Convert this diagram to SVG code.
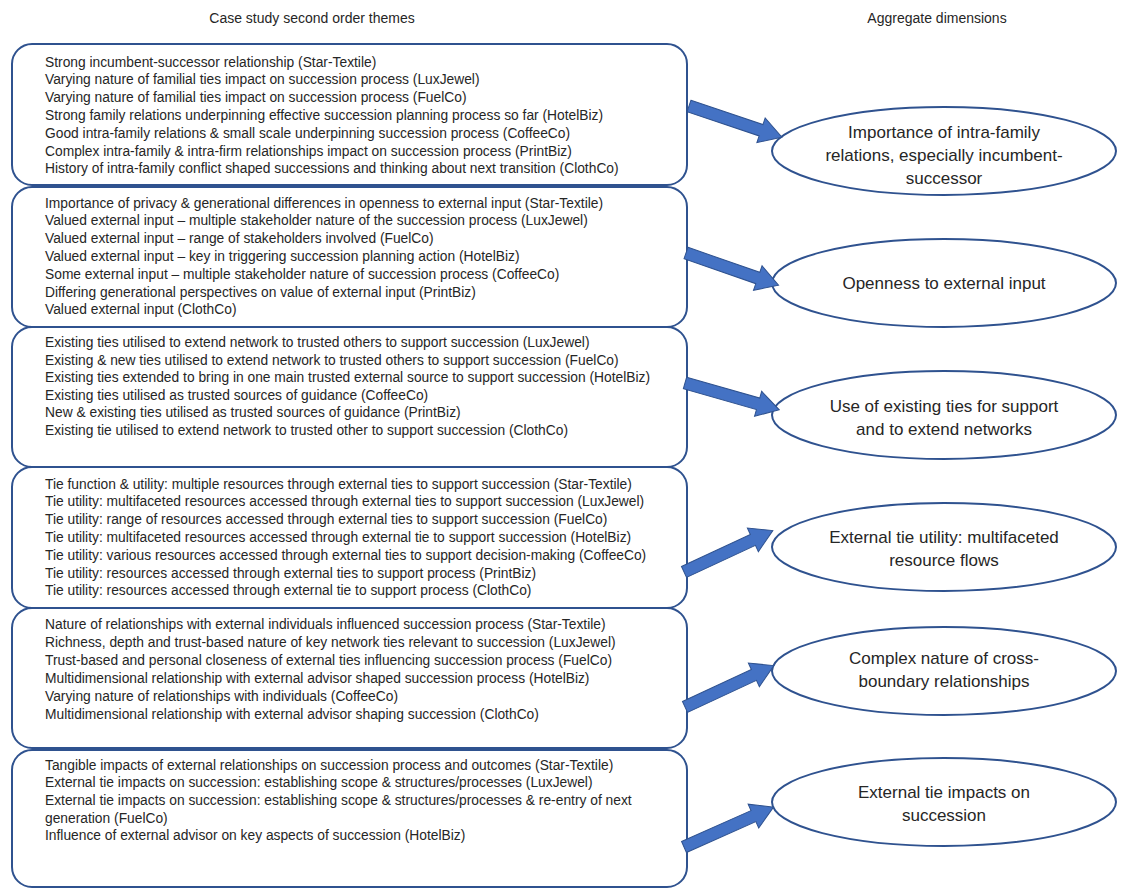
<svg xmlns="http://www.w3.org/2000/svg" width="1122" height="889" viewBox="0 0 1122 889">
<style>
.box{fill:#ffffff;stroke:#2F528F;stroke-width:2}
.ell{fill:#ffffff;stroke:#2F528F;stroke-width:2}
.t{font-family:"Liberation Sans",Arial,sans-serif;font-size:13.8px;fill:#262626}
.h{font-family:"Liberation Sans",Arial,sans-serif;font-size:14px;fill:#262626;text-anchor:middle}
.e{font-family:"Liberation Sans",Arial,sans-serif;font-size:17px;fill:#262626;text-anchor:middle}
.arr{fill:#4472C4;stroke:#2F528F;stroke-width:1}
</style>
<defs>
<path id="arrow" d="M0,-6 L76,-6 L76,-13 L98,0 L76,13 L76,6 L0,6 Z"/>
</defs>
<rect width="1122" height="889" fill="#ffffff"/>
<text class="h" x="312" y="23">Case study second order themes</text>
<text class="h" x="937" y="23">Aggregate dimensions</text>

<g id="box1">
<rect class="box" x="12" y="44" width="675" height="141" rx="20" ry="20"/>
<text class="t" x="45" y="66.5">Strong incumbent-successor relationship (Star-Textile)</text>
<text class="t" x="45" y="84.3">Varying nature of familial ties impact on succession process (LuxJewel)</text>
<text class="t" x="45" y="102.1">Varying nature of familial ties impact on succession process (FuelCo)</text>
<text class="t" x="45" y="119.9">Strong family relations underpinning effective succession planning process so far (HotelBiz)</text>
<text class="t" x="45" y="137.7">Good intra-family relations &amp; small scale underpinning succession process (CoffeeCo)</text>
<text class="t" x="45" y="155.5">Complex intra-family &amp; intra-firm relationships impact on succession process (PrintBiz)</text>
<text class="t" x="45" y="173.3">History of intra-family conflict shaped successions and thinking about next transition (ClothCo)</text>
</g>

<g id="box2">
<rect class="box" x="12" y="187" width="675" height="140" rx="20" ry="20"/>
<text class="t" x="45" y="207.5">Importance of privacy &amp; generational differences in openness to external input (Star-Textile)</text>
<text class="t" x="45" y="225.3">Valued external input – multiple stakeholder nature of the succession process (LuxJewel)</text>
<text class="t" x="45" y="243.1">Valued external input – range of stakeholders involved (FuelCo)</text>
<text class="t" x="45" y="260.9">Valued external input – key in triggering succession planning action (HotelBiz)</text>
<text class="t" x="45" y="278.7">Some external input – multiple stakeholder nature of succession process (CoffeeCo)</text>
<text class="t" x="45" y="296.5">Differing generational perspectives on value of external input (PrintBiz)</text>
<text class="t" x="45" y="314.3">Valued external input (ClothCo)</text>
</g>

<g id="box3">
<rect class="box" x="12" y="327" width="675" height="140" rx="20" ry="20"/>
<text class="t" x="45" y="347">Existing ties utilised to extend network to trusted others to support succession (LuxJewel)</text>
<text class="t" x="45" y="364.5">Existing &amp; new ties utilised to extend network to trusted others to support succession (FuelCo)</text>
<text class="t" x="45" y="382">Existing ties extended to bring in one main trusted external source to support succession (HotelBiz)</text>
<text class="t" x="45" y="399.5">Existing ties utilised as trusted sources of guidance (CoffeeCo)</text>
<text class="t" x="45" y="417">New &amp; existing ties utilised as trusted sources of guidance (PrintBiz)</text>
<text class="t" x="45" y="434.5">Existing tie utilised to extend network to trusted other to support succession (ClothCo)</text>
</g>

<g id="box4">
<rect class="box" x="12" y="467" width="675" height="141" rx="20" ry="20"/>
<text class="t" x="45" y="488.5">Tie function &amp; utility: multiple resources through external ties to support succession (Star-Textile)</text>
<text class="t" x="45" y="506.3">Tie utility: multifaceted resources accessed through external ties to support succession (LuxJewel)</text>
<text class="t" x="45" y="524.1">Tie utility: range of resources accessed through external ties to support succession (FuelCo)</text>
<text class="t" x="45" y="541.9">Tie utility: multifaceted resources accessed through external tie to support succession (HotelBiz)</text>
<text class="t" x="45" y="559.7">Tie utility: various resources accessed through external ties to support decision-making (CoffeeCo)</text>
<text class="t" x="45" y="577.5">Tie utility: resources accessed through external ties to support process (PrintBiz)</text>
<text class="t" x="45" y="595.3">Tie utility: resources accessed through external tie to support process (ClothCo)</text>
</g>

<g id="box5">
<rect class="box" x="12" y="608" width="675" height="140" rx="20" ry="20"/>
<text class="t" x="45" y="628.5">Nature of relationships with external individuals influenced succession process (Star-Textile)</text>
<text class="t" x="45" y="646.5">Richness, depth and trust-based nature of key network ties relevant to succession (LuxJewel)</text>
<text class="t" x="45" y="664.5">Trust-based and personal closeness of external ties influencing succession process (FuelCo)</text>
<text class="t" x="45" y="682.5">Multidimensional relationship with external advisor shaped succession process (HotelBiz)</text>
<text class="t" x="45" y="700.5">Varying nature of relationships with individuals (CoffeeCo)</text>
<text class="t" x="45" y="718.5">Multidimensional relationship with external advisor shaping succession (ClothCo)</text>
</g>

<g id="box6">
<rect class="box" x="12" y="750" width="675" height="137" rx="20" ry="20"/>
<text class="t" x="45" y="769.5">Tangible impacts of external relationships on succession process and outcomes (Star-Textile)</text>
<text class="t" x="45" y="787.2">External tie impacts on succession: establishing scope &amp; structures/processes (LuxJewel)</text>
<text class="t" x="45" y="804.9">External tie impacts on succession: establishing scope &amp; structures/processes &amp; re-entry of next</text>
<text class="t" x="45" y="822.6">generation (FuelCo)</text>
<text class="t" x="45" y="840.3">Influence of external advisor on key aspects of succession (HotelBiz)</text>
</g>

<g id="dim1">
<ellipse class="ell" cx="944" cy="151" rx="172" ry="44"/>
<text class="e" x="944" y="138">Importance of intra-family</text>
<text class="e" x="944" y="161">relations, especially incumbent-</text>
<text class="e" x="944" y="184">successor</text>
</g>
<g id="dim2">
<ellipse class="ell" cx="944" cy="283" rx="172" ry="44"/>
<text class="e" x="944" y="289">Openness to external input</text>
</g>
<g id="dim3">
<ellipse class="ell" cx="944" cy="415" rx="172" ry="44"/>
<text class="e" x="944" y="412">Use of existing ties for support</text>
<text class="e" x="944" y="435">and to extend networks</text>
</g>
<g id="dim4">
<ellipse class="ell" cx="944" cy="547" rx="172" ry="44"/>
<text class="e" x="944" y="543">External tie utility: multifaceted</text>
<text class="e" x="944" y="566">resource flows</text>
</g>
<g id="dim5">
<ellipse class="ell" cx="944" cy="671" rx="172" ry="44"/>
<text class="e" x="944" y="664">Complex nature of cross-</text>
<text class="e" x="944" y="687">boundary relationships</text>
</g>
<g id="dim6">
<ellipse class="ell" cx="944" cy="802" rx="172" ry="44"/>
<text class="e" x="944" y="798">External tie impacts on</text>
<text class="e" x="944" y="821">succession</text>
</g>

<g id="connectors">
<use href="#arrow" class="arr" transform="translate(689,106) rotate(18.6)"/>
<use href="#arrow" class="arr" transform="translate(686,253) rotate(19.2)"/>
<use href="#arrow" class="arr" transform="translate(685,383) rotate(15.9)"/>
<use href="#arrow" class="arr" transform="translate(684,572) rotate(-25)"/>
<use href="#arrow" class="arr" transform="translate(685,707) rotate(-25)"/>
<use href="#arrow" class="arr" transform="translate(684,847) rotate(-24)"/>
</g>
</svg>
